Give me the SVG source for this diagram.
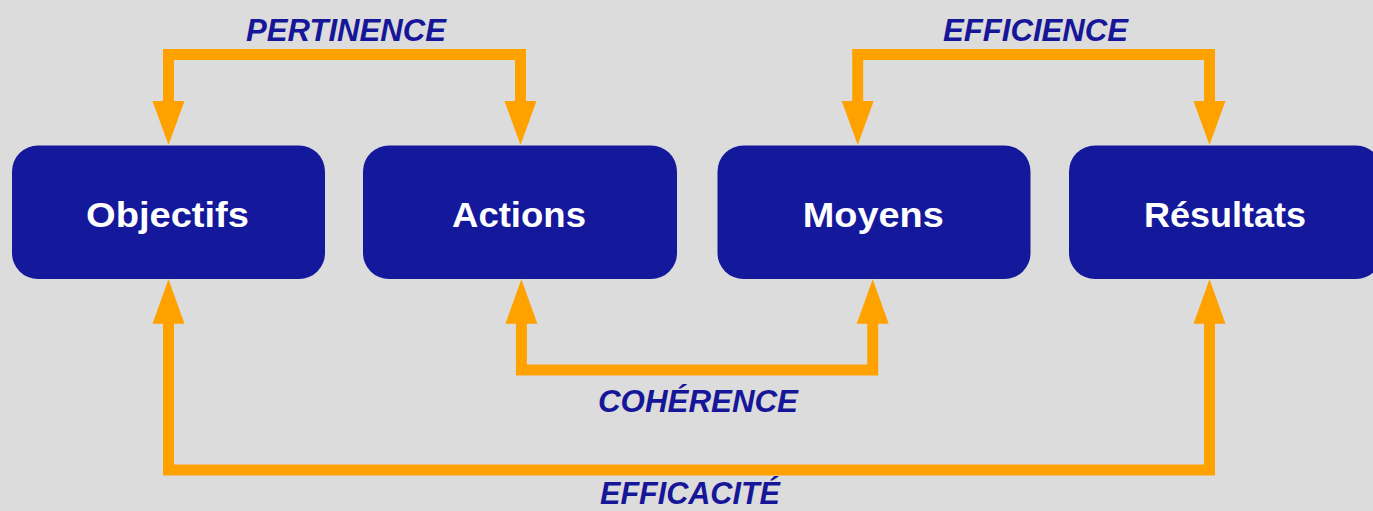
<svg xmlns="http://www.w3.org/2000/svg" width="1373" height="511" viewBox="0 0 1373 511">
<style>
.box{fill:#14189a}
.nt{fill:#ffffff;font-family:"Liberation Sans",Arial,sans-serif;font-weight:bold;font-size:35px;text-anchor:middle}
.ln{fill:none;stroke:#ffa200;stroke-width:11;stroke-linejoin:miter;stroke-linecap:butt}
.ah{fill:#ffa200}
.lb{fill:#161699;font-family:"Liberation Sans",Arial,sans-serif;font-weight:bold;font-style:italic;font-size:31px}
</style>
<rect width="1373" height="511" fill="#dcdcdc"/>
<g id="connectors">
<path class="ln" d="M168.5,102 V54.5 H520.5 V102"/>
<polygon class="ah" points="152.5,101 184.5,101 168.5,145"/>
<polygon class="ah" points="504.5,101 536.5,101 520.5,145"/>
<path class="ln" d="M857.7,102 V54.5 H1209.5 V102"/>
<polygon class="ah" points="841.7,101 873.7,101 857.7,145"/>
<polygon class="ah" points="1193.5,101 1225.5,101 1209.5,145"/>
<path class="ln" d="M521.4,322 V370 H872.7 V322"/>
<polygon class="ah" points="505.4,323.7 537.4,323.7 521.4,279.3"/>
<polygon class="ah" points="856.7,323.7 888.7,323.7 872.7,279.3"/>
<path class="ln" d="M168.5,322 V470 H1209.5 V322"/>
<polygon class="ah" points="152.5,323.7 184.5,323.7 168.5,279.3"/>
<polygon class="ah" points="1193.5,323.7 1225.5,323.7 1209.5,279.3"/>
<text class="lb" x="246" y="40.7" textLength="200" lengthAdjust="spacingAndGlyphs">PERTINENCE</text>
<text class="lb" x="943" y="40.7" textLength="185" lengthAdjust="spacingAndGlyphs">EFFICIENCE</text>
<text class="lb" x="598" y="411.7" textLength="200" lengthAdjust="spacingAndGlyphs">COHÉRENCE</text>
<text class="lb" x="600" y="503.5" textLength="180" lengthAdjust="spacingAndGlyphs">EFFICACITÉ</text>
</g>
<g id="objectifs">
<rect class="box" x="12" y="145.5" width="313" height="133.5" rx="26"/>
<text class="nt" x="167.5" y="226.7" textLength="163" lengthAdjust="spacingAndGlyphs">Objectifs</text>
</g>
<g id="actions">
<rect class="box" x="363" y="145.5" width="314" height="133.5" rx="26"/>
<text class="nt" x="519" y="226.7" textLength="134" lengthAdjust="spacingAndGlyphs">Actions</text>
</g>
<g id="moyens">
<rect class="box" x="717.5" y="145.5" width="313" height="133.5" rx="26"/>
<text class="nt" x="873.3" y="226.7" textLength="141" lengthAdjust="spacingAndGlyphs">Moyens</text>
</g>
<g id="resultats">
<rect class="box" x="1069" y="145.5" width="313" height="133.5" rx="26"/>
<text class="nt" x="1225" y="226.7" textLength="162" lengthAdjust="spacingAndGlyphs">Résultats</text>
</g>
</svg>
